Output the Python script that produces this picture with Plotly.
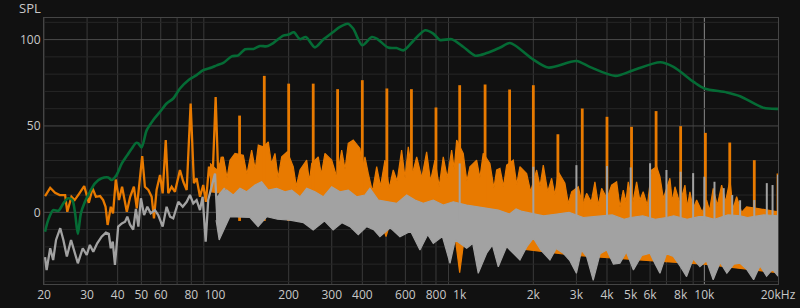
import math
import plotly.graph_objects as go

# ---------------- data ----------------
# Green: smoothed response (Hz, dB)
green_f = [20.2, 20.8, 21.8, 22.9, 24.0, 25.1, 26.1, 26.8, 27.5, 28.3, 29.4, 30.8, 32.3, 34.4, 36.6, 37.8,
           39.6, 41.6, 43.8, 45.7, 47.6, 48.6, 50.1, 52.6, 55.9, 59.6, 63.4, 67.5, 71.9, 77.8, 84.1, 89.5,
           96.9, 101.6, 108.1, 117, 124.5, 132.7, 143.7, 152.6, 162.7, 173, 190, 200, 210, 222, 235, 256,
           277, 304, 324, 349, 367, 400, 437, 458, 510, 552, 590, 646, 722, 780, 830, 928, 1036, 1157,
           1290, 1463, 1606, 2000, 2300, 3000, 3400, 4330, 5130, 6600, 7480, 9040, 10000, 12360, 14000,
           17440, 20000]
green_db = [-11.2, -4.5, 1.3, 0.9, 5.2, 8.1, 7.1, -0.6, -12.5, -0.6, 6.1, 11.9, 16.8, 19.7, 20.2, 18.7,
            21.6, 28.3, 33.1, 37, 40.2, 39.9, 37.6, 47.6, 53.4, 58.2, 63, 65.9, 71.7, 76.5, 79.4, 82.3,
            83.8, 85.1, 86.5, 90.3, 90.9, 94.4, 94.6, 96.3, 96.1, 98, 102.3, 102.9, 104.2, 100.3, 101.5, 95.5,
            100, 104.4, 107.3, 109.2, 106.4, 96.7, 101.5, 100.6, 95.4, 95.1, 93.8, 99.2, 105.4, 103.5, 99.8,
            100.2, 95.7, 90.7, 92.2, 95.4, 98, 88.4, 83.8, 87.6, 84.2, 79, 82.3, 86.9, 84.2, 75.5, 71.7,
            69.4, 67.2, 60.5, 59.9]

# Orange: low-frequency trace (Hz, dB)
orange_lf_f = [20.2, 21.2, 22.2, 23.2, 24.4, 24.9, 25.9, 26.7, 27.9, 29.2, 30.5, 31.6, 32.6, 33.9, 34.9,
               35.7, 36.4, 37.5, 38.3, 39.3, 40.5, 41.7, 43.6, 45.0, 46.6, 47.9, 48.6, 50.4, 51.7, 53.4,
               55.1, 56.3, 57.7, 59.6, 61.1, 62.9, 64.4, 66.5, 68.6, 71.9, 74.2, 76.6, 79.5, 82.0, 84.1,
               86.8, 89.5, 91.8, 94.5, 97.5, 100.6, 103.1, 106.5, 109.8]
orange_lf_db = [9.4, 14.2, 11.3, 10, 10, 0.3, 9, 7.1, 11, 15.2, 5.5, 13.9, 9, 9.4, 7.1,
                3.2, -7.3, 3.2, -0.6, 19, 7.1, 14.8, 0.3, 9, 14.8, 2.3, 11, 32.5, 14.8, 12.9,
                9, -3.5, 12.9, 21.6, 11, 41.8, 11, 14.8, 11.9, 24.5, 17.7, 12.9, 63, 16.8, 19.7,
                9, 15.8, 6.1, 26.4, 15.8, 66.8, 20.6, 32.1, 24.5]

# Orange: dense spectrum upper envelope (Hz, dB)
orange_top_f = [95.4, 101.6, 108.1, 112, 115.1, 120.7, 130.5, 135, 141.2, 146, 150.3, 157.5, 165.1, 170,
                175.8, 181, 187.3, 197.4, 208.8, 215, 222.5, 237, 243, 248.4, 264.2, 272, 281.4, 299.8,
                315, 329.4, 340, 350.4, 367.3, 391.3, 400, 410, 423, 440, 457.9, 475, 495, 515, 535.2,
                555, 579, 598, 616.5, 640, 667.2, 700, 732.8, 760, 792.4, 825, 856.8, 890, 927.2, 950,
                972, 1034, 1070, 1101, 1173, 1210, 1248, 1329, 1380, 1416, 1461, 1510, 1556, 1656, 1710,
                1763, 1878, 1950, 2063, 2130, 2196, 2290, 2376, 2450, 2528, 2692, 2780, 2868, 3052, 3180,
                3302, 3450, 3570, 3690, 3804, 4000, 4178, 4380, 4520, 4662, 4780, 4886, 5080, 5286, 5450,
                5624, 5850, 6086, 6382, 6584, 6800, 7232, 7400, 7582, 7950, 8330, 8520, 8730, 9000, 9300,
                9800, 10216, 10500, 10870, 11300, 11768, 12200, 12726, 13100, 13552, 14200, 14886, 16356,
                17964, 20000]
orange_top_db = [28.3, 24.5, 32.1, 20, 30.2, 34.1, 33.1, 22, 36, 25, 38.9, 37.9, 40.8, 28,
                 34.1, 20, 32.1, 35, 26.4, 15, 24.5, 30.2, 18, 28.3, 32.1, 22, 34.1, 30.2,
                 20, 36, 25, 39.9, 41.8, 37, 25, 32.1, 22.5, 12, 26.4, 15, 30.2, 14, 24.5,
                 18, 36, 20, 37.9, 22, 32.1, 20, 35, 18, 30.2, 15, 32.1, 20, 36, 25,
                 41.8, 34.1, 18, 26.4, 30.2, 20, 34.1, 28.3, 14, 24.5, 25.4, 15, 27.3, 30.2, 16,
                 26.4, 22.5, 12, 24.5, 15, 27.3, 12, 19.7, 10, 23.5, 16.8, 5, 11.9, 14.8, 4,
                 11, 6, 17.7, 4, 13.9, 8, 15.8, 17.7, 3, 12.9, 6, 17.7, 4, 17.7, 7,
                 11.9, 4, 24.5, 26.4, 20.6, 8, 19.7, 6, 14.8, 5, 15.8, 3, 11.9, 2, 7.1,
                 0, 7.1, 1, 13.9, 4, 15.8, 6, 18.7, 2, 9, 0, 3.2, 2.3,
                 1.3, 0.3]
# Orange: lower envelope (Hz, dB)
orange_bot_f = [95.4, 150, 250, 400, 480, 500, 520, 700, 950, 1000, 1050, 1500, 3000, 6000, 10000, 20000]
orange_bot_db = [12, 8, 2, -4, -6, -14, -6, -8, -10, -35, -12, -20, -25, -28, -30, -35]

# Orange: third-octave tone peaks (Hz, dB)
orange_peak_f = [126, 159, 200, 252, 317, 400, 504, 635, 800, 1000, 1270, 1600, 2000, 2520, 3170, 4000,
                 5040, 6350, 8000, 10100, 12700, 16000, 20000]
orange_peak_db = [56, 79, 74.5, 74.5, 71.3, 76.5, 71.7, 71.3, 60.7, 73.6, 74, 71.1, 73.6, 45.2, 60.1, 55.3,
                  49.5, 58.6, 49.9, 46, 40.4, 30.2, 22.5]

# Grey: low-frequency trace (Hz, dB)
grey_lf_f = [20.2, 20.5, 21.2, 21.8, 22.4, 23.3, 24.0, 24.8, 25.8, 26.8, 27.5, 28.8, 29.9, 30.8, 31.8,
             33.0, 34.4, 35.8, 36.8, 37.5, 38.2, 39.0, 40.2, 41.6, 42.9, 43.8, 44.9, 46.3, 47.5, 48.6,
             49.8, 51.3, 52.9, 54.6, 56.8, 58.6, 61.1, 63.4, 65.5, 67.5, 70.8, 73.8, 76.6, 79.0, 81.5,
             84.1, 86.8, 89.0, 91.6, 93.8, 96.9, 100, 102.2, 105.5, 109.8]
grey_lf_db = [-26, -33.4, -20.8, -27.6, -16, -9.2, -16, -25.6, -16, -23.7, -29.5, -20.8, -24.7, -18.9, -22.8,
              -17.9, -14.1, -11.8, -12.5, -20.8, -17, -30.5, -8.3, -6.4, -5.4, -2.5, -7, -10, 2, -8.3,
              8.1, -1.6, 3.2, -0.6, 1.3, -1.6, -8.3, 3.2, -2.5, -3.5, 6.1, 3.2, 6.1, 10, 5.2,
              7.1, 1.3, 9, -17, 7.1, 14.8, 22.5, -3.5, 11, 13.9]

# Grey: dense spectrum upper envelope (Hz, dB)
grey_top_f = [101, 104.8, 111.6, 118.7, 126.5, 134.7, 145.7, 155.1, 165.1, 178.6, 193.2, 205.8, 222.5, 237,
              256.3, 277, 299.8, 324.2, 350.4, 379.2, 410, 429.8, 464.8, 503, 552.6, 607.2, 656.6, 709.8,
              779.8, 856.8, 941.4, 1068, 1173, 1289, 1438, 1600, 1700, 1800, 2200, 2500, 2800, 3200, 3500,
              4200, 4700, 5000, 5600, 6300, 7000, 7500, 8500, 9500, 10000, 11000, 12500, 14000, 15000,
              17500, 20000]
grey_top_db = [8, 11, 12.9, 10, 13.9, 11.9, 15.8, 17.7, 12.9, 13.9, 11.9, 12.9, 9, 13.9,
               11.9, 9, 14.8, 11.9, 12.9, 9, 10, 13.9, 7.1, 6.1, 5.2, 10, 7.1, 5.2,
               7.1, 4.2, 6.1, 4.2, 3.2, 2.3, 1.3, -1, 2, 0.5, -2, -1, 0, -3, -2.5,
               -1.5, -4, -3, -2, -4, -3, -2, -4, -2.5, -2.5, -4, -1.5, -2, -3,
               -1.5, -2]
# Grey: lower envelope (Hz, dB)
grey_bot_f = [101, 104, 115, 139, 150, 163, 180, 202, 230, 252, 280, 304, 330, 356, 385, 417, 445, 472,
              520, 570, 630, 688, 740, 780, 850, 913, 960, 1068, 1130, 1191, 1289, 1360, 1438, 1556, 1660,
              1763, 1880, 2000, 2150, 2338, 2480, 2650, 2820, 3000, 3150, 3302, 3514, 3750, 3990, 4250,
              4518, 4800, 5130, 5550, 5992, 6300, 6584, 7000, 7480, 7950, 8462, 9000, 9592, 10200, 10870,
              11600, 12360, 13200, 14000, 14900, 15900, 16900, 17964, 19000, 20000]
grey_bot_db = [-4.5, -16, -2.5, -3, -8.3, -2.5, -4, -4.5, -6, -10.2, -5, -10.2, -6, -8.3, -13, -8.3, -10, -14.1,
               -9, -14.1, -11, -21.8, -13, -18, -14, -29.5, -16, -20.8, -18, -35.3, -23.7, -19, -31.5, -19.9, -24,
               -27.6, -20, -15, -22, -27.6, -21, -23.7, -28, -35.3, -22, -25.6, -39.4, -24, -21.8, -30,
               -29.5, -23, -33.4, -25, -23.7, -30, -35.3, -24, -25.6, -31, -37.2, -27, -31.4, -28, -39,
               -29, -35.3, -30, -29.5, -33, -39, -31, -37, -33, -37]

# Grey: 1 kHz harmonic peaks (Hz, dB)
grey_peak_f = [1000, 2000, 3000, 4000, 5000, 6000, 7000, 8000, 9000, 10000, 11000, 12000, 13000, 14000,
               16000, 18000, 19000, 20000]
grey_peak_db = [28.3, 26.4, 27.3, 26.8, 26, 28.4, 24.5, 23.5, 22.7, 20.6, 17.7, 14, 10, 7, 7.1, 16.9, 15.8, 21.6]

# Axis ticks
x_tick_vals = [20, 30, 40, 50, 60, 80, 100, 200, 300, 400, 600, 800, 1000, 2000, 3000, 4000, 5000, 6000,
               8000, 10000, 20000]
x_tick_text = ["20", "30", "40", "50", "60", "80", "100", "200", "300", "400", "600", "800", "1k", "2k",
               "3k", "4k", "5k", "6k", "8k", "10k", "20kHz"]
y_tick_vals = [0, 50, 100]
y_tick_text = ["0", "50", "100"]

# ---------------- style ----------------
BG = "#111111"
ORANGE = "#e87a00"
GREY = "#a2a2a2"
GREEN = "#056b35"
SPIKE_BASE = -5

fig = go.Figure()

fig.add_trace(go.Scatter(x=orange_lf_f, y=orange_lf_db, mode="lines",
                         line=dict(color=ORANGE, width=2.3), hoverinfo="skip"))
fig.add_trace(go.Scatter(x=orange_top_f + orange_bot_f[::-1], y=orange_top_db + orange_bot_db[::-1],
                         mode="lines", fill="toself", fillcolor=ORANGE,
                         line=dict(color=ORANGE, width=1.2), hoverinfo="skip"))
sx, sy = [], []
for f, v in zip(orange_peak_f, orange_peak_db):
    sx += [f, f, None]
    sy += [SPIKE_BASE, v, None]
fig.add_trace(go.Scatter(x=sx, y=sy, mode="lines", line=dict(color=ORANGE, width=2.8), hoverinfo="skip"))

fig.add_trace(go.Scatter(x=grey_lf_f, y=grey_lf_db, mode="lines",
                         line=dict(color=GREY, width=2.3), hoverinfo="skip"))
fig.add_trace(go.Scatter(x=grey_top_f + grey_bot_f[::-1], y=grey_top_db + grey_bot_db[::-1],
                         mode="lines", fill="toself", fillcolor=GREY,
                         line=dict(color=GREY, width=1.2), hoverinfo="skip"))
gx, gy = [], []
for f, v in zip(grey_peak_f, grey_peak_db):
    gx += [f, f, None]
    gy += [SPIKE_BASE, v, None]
fig.add_trace(go.Scatter(x=gx, y=gy, mode="lines", line=dict(color=GREY, width=2), hoverinfo="skip"))

fig.add_trace(go.Scatter(x=green_f, y=green_db, mode="lines", line_shape="spline",
                         line=dict(color=GREEN, width=2.6, smoothing=0.8), hoverinfo="skip"))

# grid lines as shapes
shapes = []
vgrid = [m * d for d in (10, 100, 1000) for m in range(2, 10)] + [10000]
for f in vgrid:
    col = "#8a8a8a" if f in (100, 1000, 10000) else "#3a3a3a"
    shapes.append(dict(type="line", xref="x", yref="paper", x0=f, x1=f, y0=0, y1=1,
                       line=dict(color=col, width=1), layer="below"))
for v in range(-40, 111, 10):
    col = "#4a4a4a" if v in (0, 50, 100) else "#272727"
    shapes.append(dict(type="line", xref="paper", yref="y", x0=0, x1=1, y0=v, y1=v,
                       line=dict(color=col, width=1), layer="below"))

FONT = dict(family="Open Sans, DejaVu Sans, sans-serif", size=12, color="#c8c8c8")

fig.update_layout(
    width=800, height=308,
    margin=dict(l=44, r=22, t=18, b=24, autoexpand=False),
    paper_bgcolor=BG, plot_bgcolor=BG,
    showlegend=False,
    font=FONT,
    shapes=shapes,
    xaxis=dict(type="log", range=[math.log10(20), math.log10(20000)], automargin=False,
               tickvals=x_tick_vals, ticktext=x_tick_text, showgrid=False, zeroline=False,
               showline=True, linecolor="#454545", linewidth=1, mirror=True,
               ticks="", tickfont=FONT),
    yaxis=dict(range=[-41.5, 112.5], tickvals=y_tick_vals, ticktext=y_tick_text, automargin=False,
               showgrid=False, zeroline=False, showline=True, linecolor="#454545", linewidth=1,
               mirror=True, ticks="", tickfont=FONT),
    annotations=[dict(text="SPL", xref="paper", yref="paper", x=-0.037, y=1.0,
                      xanchor="left", yanchor="middle", yshift=10, showarrow=False,
                      font=dict(family=FONT["family"], size=13, color="#c8c8c8"))],
)

fig.write_html("out.html")
